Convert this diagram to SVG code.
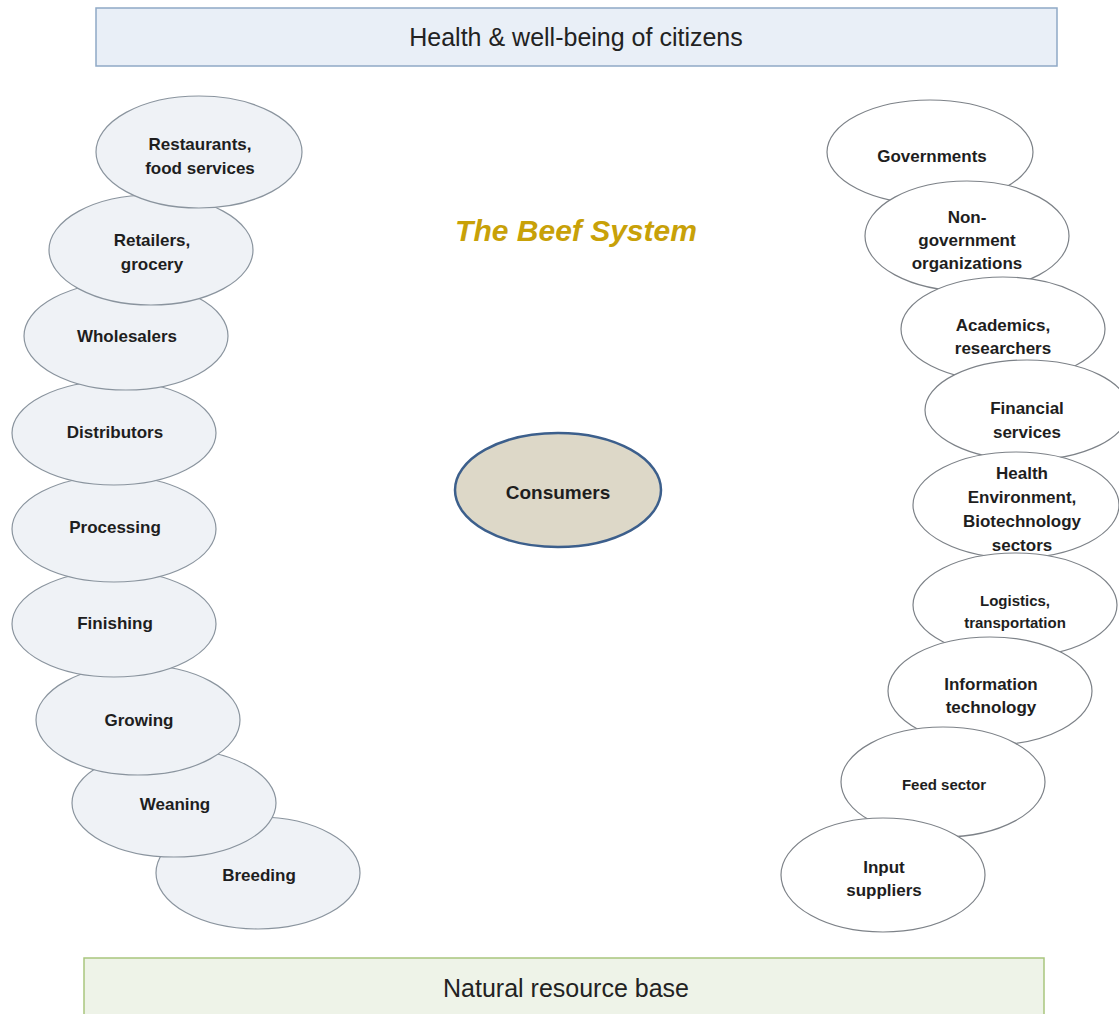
<svg xmlns="http://www.w3.org/2000/svg" width="1119" height="1014" viewBox="0 0 1119 1014">
<style>
.lbl{font-family:"Liberation Sans",Arial,sans-serif;font-weight:bold;font-size:17px;fill:#1e1e1e;text-anchor:middle;dominant-baseline:central}
.sm{font-size:15px}
.le{fill:#eff2f6;stroke:#8a949e;stroke-width:1.2}
.re{fill:#ffffff;stroke:#7d8288;stroke-width:1.2}
.band{font-family:"Liberation Sans",Arial,sans-serif;font-size:25px;fill:#222;text-anchor:middle;dominant-baseline:central}
</style>
<rect width="1119" height="1014" fill="#ffffff"/>
<g id="top-band">
<rect x="96" y="8" width="961" height="58" fill="#e9eff7" stroke="#8fa9c6" stroke-width="1.5"/>
<text class="band" x="576" y="37">Health &amp; well-being of citizens</text>
</g>
<g id="bottom-band">
<rect x="84" y="958" width="960" height="60" fill="#eef3e8" stroke="#a9c67e" stroke-width="1.5"/>
<text class="band" x="566" y="988">Natural resource base</text>
</g>
<g id="title">
<text x="576" y="230" style="font-family:'Liberation Sans',Arial,sans-serif;font-weight:bold;font-style:italic;font-size:30px;fill:#c8a108;text-anchor:middle;dominant-baseline:central">The Beef System</text>
</g>
<g id="connectors"></g>
<g id="left-chain">
<g id="breeding"><ellipse class="le" cx="258" cy="873" rx="102" ry="56"/><text class="lbl" x="259" y="875">Breeding</text></g>
<g id="weaning"><ellipse class="le" cx="174" cy="803" rx="102" ry="54"/><text class="lbl" x="175" y="804">Weaning</text></g>
<g id="growing"><ellipse class="le" cx="138" cy="720" rx="102" ry="55"/><text class="lbl" x="139" y="720">Growing</text></g>
<g id="finishing"><ellipse class="le" cx="114" cy="624" rx="102" ry="53"/><text class="lbl" x="115" y="623">Finishing</text></g>
<g id="processing"><ellipse class="le" cx="114" cy="529" rx="102" ry="53"/><text class="lbl" x="115" y="527">Processing</text></g>
<g id="distributors"><ellipse class="le" cx="114" cy="433" rx="102" ry="52"/><text class="lbl" x="115" y="432">Distributors</text></g>
<g id="wholesalers"><ellipse class="le" cx="126" cy="336" rx="102" ry="54"/><text class="lbl" x="127" y="336">Wholesalers</text></g>
<g id="retailers"><ellipse class="le" cx="151" cy="250" rx="102" ry="55"/><text class="lbl" x="152" y="240">Retailers,</text><text class="lbl" x="152" y="264">grocery</text></g>
<g id="restaurants"><ellipse class="le" cx="199" cy="152" rx="103" ry="56"/><text class="lbl" x="200" y="144">Restaurants,</text><text class="lbl" x="200" y="168">food services</text></g>
</g>
<g id="right-chain">
<g id="governments"><ellipse class="re" cx="930" cy="152" rx="103" ry="52"/><text class="lbl" x="932" y="156">Governments</text></g>
<g id="ngo"><ellipse class="re" cx="967" cy="236" rx="102" ry="55"/><text class="lbl" x="967" y="217">Non-</text><text class="lbl" x="967" y="240">government</text><text class="lbl" x="967" y="263">organizations</text></g>
<g id="academics"><ellipse class="re" cx="1003" cy="329" rx="102" ry="52"/><text class="lbl" x="1003" y="325">Academics,</text><text class="lbl" x="1003" y="348">researchers</text></g>
<g id="financial"><ellipse class="re" cx="1027" cy="410" rx="102" ry="50"/><text class="lbl" x="1027" y="408">Financial</text><text class="lbl" x="1027" y="432">services</text></g>
<g id="health-sectors"><ellipse class="re" cx="1016" cy="505" rx="103" ry="53"/><text class="lbl" x="1022" y="473">Health</text><text class="lbl" x="1022" y="497">Environment,</text><text class="lbl" x="1022" y="521">Biotechnology</text><text class="lbl" x="1022" y="545">sectors</text></g>
<g id="logistics"><ellipse class="re" cx="1015" cy="605" rx="102" ry="52"/><text class="lbl sm" x="1015" y="600">Logistics,</text><text class="lbl sm" x="1015" y="622">transportation</text></g>
<g id="it"><ellipse class="re" cx="990" cy="691" rx="102" ry="54"/><text class="lbl" x="991" y="684">Information</text><text class="lbl" x="991" y="707">technology</text></g>
<g id="feed"><ellipse class="re" cx="943" cy="782" rx="102" ry="55"/><text class="lbl sm" x="944" y="784">Feed sector</text></g>
<g id="input"><ellipse class="re" cx="883" cy="875" rx="102" ry="57"/><text class="lbl" x="884" y="867">Input</text><text class="lbl" x="884" y="890">suppliers</text></g>
</g>
<g id="consumers">
<ellipse cx="558" cy="490" rx="103" ry="57" fill="#ddd8c8" stroke="#3c5f8c" stroke-width="2.5"/>
<text class="lbl" x="558" y="492" style="font-size:19px">Consumers</text>
</g>
</svg>
